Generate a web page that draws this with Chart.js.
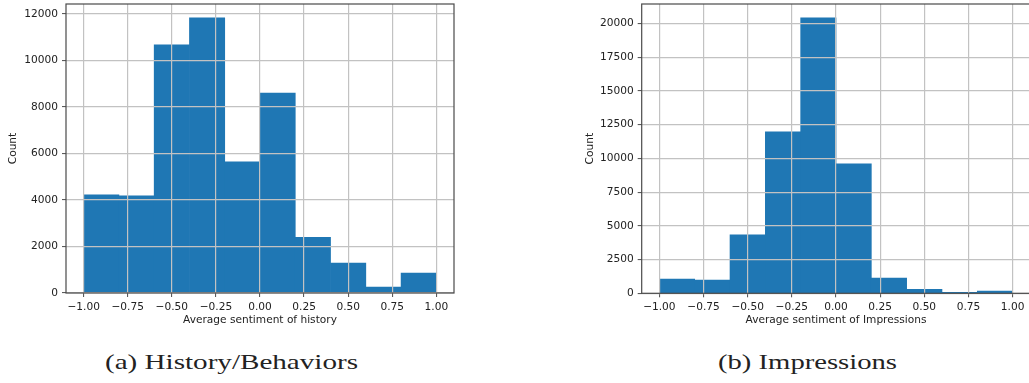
<!DOCTYPE html>
<html>
<head>
<meta charset="utf-8">
<script src="https://cdn.jsdelivr.net/npm/chart.js@4.4.1/dist/chart.umd.min.js"></script>
<style>
  html, body { margin: 0; padding: 0; background: #fff; overflow: hidden; width: 1029px; height: 383px; }
  body { position: relative; }
  .panel { position: absolute; top: 0; height: 330px; }
  .caption { position: absolute; white-space: nowrap; font-family: "Liberation Serif", "Times New Roman", serif;
             font-size: 22px; line-height: 22px; color: #222; transform-origin: 0 0; }
</style>
</head>
<body>
<div class="panel" style="left:0; width:470px;"><canvas id="histHistory"></canvas></div>
<div class="panel" style="left:560px; width:480px;"><canvas id="histImpressions"></canvas></div>
<div class="caption" id="capA">(a) History/Behaviors</div>
<div class="caption" id="capB">(b) Impressions</div>
<script>
// Histogram bins (10 equal bins over [-1, 1]) and counts per bin
const binEdges = [-1.0, -0.8, -0.6, -0.4, -0.2, 0.0, 0.2, 0.4, 0.6, 0.8, 1.0];
const historyCounts = [4220, 4180, 10680, 11840, 5640, 8600, 2400, 1290, 260, 860];
const impressionCounts = [1050, 980, 4330, 11960, 20420, 9590, 1120, 300, 80, 160];

// Axis ticks
const xTickValues = [-1.0, -0.75, -0.5, -0.25, 0.0, 0.25, 0.5, 0.75, 1.0];
const xTickLabels = ['\u22121.00', '\u22120.75', '\u22120.50', '\u22120.25', '0.00', '0.25', '0.50', '0.75', '1.00'];
const historyYTicks = [0, 2000, 4000, 6000, 8000, 10000, 12000];
const impressionYTicks = [0, 2500, 5000, 7500, 10000, 12500, 15000, 17500, 20000];

const BAR_BLUE = '#1f77b4';
const TEXT = '#222222';
const GRID = '#c2c2c2';
const SPINE = '#4a4a4a';
const FONT = { family: '"DejaVu Sans", sans-serif', size: 10.6 };

// Outline the plot area like a boxed axes frame
const framePlugin = {
  id: 'frame',
  afterDraw(chart) {
    const { ctx, chartArea: a } = chart;
    ctx.save();
    ctx.strokeStyle = SPINE;
    ctx.lineWidth = 1.2;
    ctx.strokeRect(a.left, a.top, a.right - a.left, a.bottom - a.top);
    ctx.restore();
  }
};

function makeHistogram(canvasId, counts, yTicks, xLabel, geom) {
  const centers = counts.map((_, i) => (binEdges[i] + binEdges[i + 1]) / 2);
  const data = counts.map((c, i) => ({ x: centers[i], y: c }));
  const yMax = Math.max(...counts) * 1.05;

  return new Chart(document.getElementById(canvasId), {
    type: 'bar',
    data: {
      datasets: [{
        data,
        backgroundColor: BAR_BLUE,
        borderWidth: 0,
        barPercentage: 1.0,
        categoryPercentage: 1.0
      }]
    },
    options: {
      responsive: true,
      maintainAspectRatio: false,
      animation: false,
      events: [],
      layout: { padding: { top: 4, right: geom.padRight, left: 0, bottom: 0 } },
      plugins: { legend: { display: false }, tooltip: { enabled: false } },
      scales: {
        x: {
          type: 'linear',
          min: -1.1,
          max: 1.1,
          offset: false,
          afterBuildTicks(scale) { scale.ticks = xTickValues.map(v => ({ value: v })); },
          afterFit(scale) {
            scale.height = geom.xAxisHeight;
            scale.paddingLeft = 0;
            scale.paddingRight = 0;
          },
          grid: { offset: false, color: GRID, lineWidth: 1.2, z: 1, drawTicks: true, tickLength: 4, tickColor: SPINE, tickWidth: 1 },
          border: { display: false },
          ticks: {
            color: TEXT, font: FONT, padding: 3.5, maxRotation: 0, autoSkip: false,
            callback(value, index) { return xTickLabels[index]; }
          },
          title: { display: true, text: xLabel, color: TEXT, font: FONT, padding: { top: 0, bottom: 3.6 } }
        },
        y: {
          type: 'linear',
          min: 0,
          max: yMax,
          afterBuildTicks(scale) { scale.ticks = yTicks.map(v => ({ value: v })); },
          afterFit(scale) {
            scale.width = geom.yAxisWidth;
            scale.paddingTop = 0;
            scale.paddingBottom = 0;
          },
          grid: { color: GRID, lineWidth: 1.2, z: 1, drawTicks: true, tickLength: 4, tickColor: SPINE, tickWidth: 1 },
          border: { display: false },
          ticks: {
            color: TEXT, font: FONT, padding: 4, autoSkip: false,
            callback(value) { return String(value); }
          },
          title: { display: true, text: 'Count', color: TEXT, font: FONT, padding: { top: geom.countPad, bottom: 0 } }
        }
      }
    },
    plugins: [framePlugin]
  });
}

makeHistogram('histHistory', historyCounts, historyYTicks, 'Average sentiment of history',
  { padRight: 16, xAxisHeight: 37, yAxisWidth: 66, countPad: 7 });
makeHistogram('histImpressions', impressionCounts, impressionYTicks, 'Average sentiment of Impressions',
  { padRight: 9.7, xAxisHeight: 36.7, yAxisWidth: 81.7, countPad: 23.6 });

// Sub-figure captions, stretched to their set widths
function placeCaption(id, left, width, baseline) {
  const el = document.getElementById(id);
  const natural = el.getBoundingClientRect().width;
  el.style.left = left + 'px';
  el.style.top = (baseline - 18.4) + 'px';
  el.style.transform = 'scaleX(' + (width / natural) + ')';
}
placeCaption('capA', 105, 253, 369);
placeCaption('capB', 718, 179, 369);
</script>
</body>
</html>
